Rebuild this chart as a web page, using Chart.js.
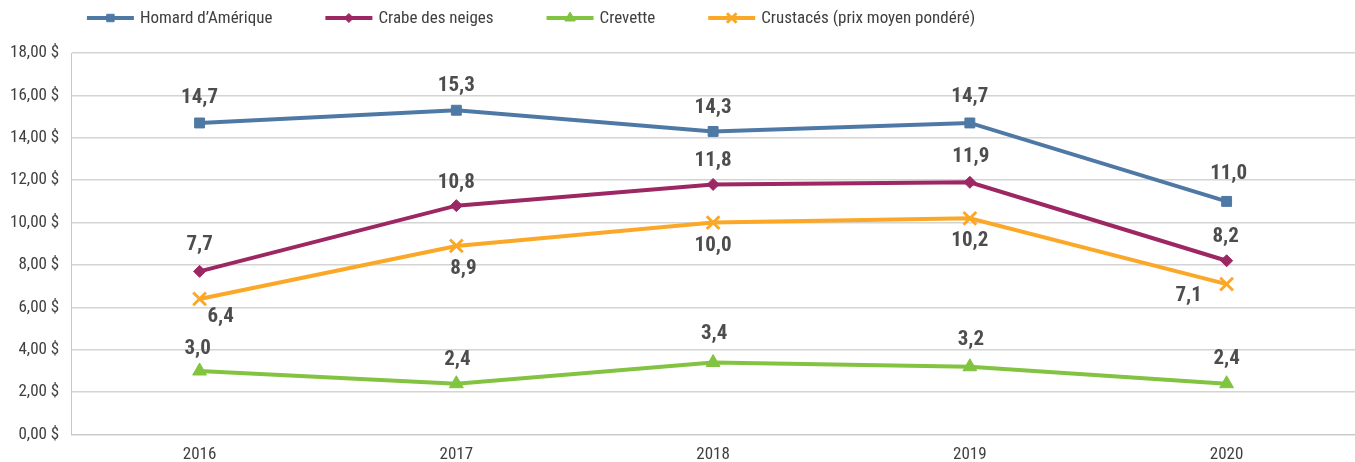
<!DOCTYPE html>
<html>
<head>
<meta charset="utf-8">
<script src="https://cdn.jsdelivr.net/npm/chart.js@4/dist/chart.umd.min.js"></script>
<style>
  html, body { margin: 0; padding: 0; background: #fff; overflow: hidden; }
</style>
</head>
<body>
<canvas id="chart" width="1355" height="462"></canvas>
<script>
// prix moyens par espèce
const years = ["2016", "2017", "2018", "2019", "2020"]
const homard = [14.7, 15.3, 14.3, 14.7, 11.0]
const crabe = [7.7, 10.8, 11.8, 11.9, 8.2]
const crevette = [3.0, 2.4, 3.4, 3.2, 2.4]
const crustaces = [6.4, 8.9, 10.0, 10.2, 7.1]
const yTicks = [0, 2, 4, 6, 8, 10, 12, 14, 16, 18]

const narrow = '"Liberation Sans Narrow", "Roboto Condensed", "DejaVu Sans Condensed", Roboto, sans-serif'
const fmt = v => v.toFixed(1).replace(".", ",")

function serie(label, data, color, style, radius, lbl) {
    return {
        label: label,
        data: data,
        borderColor: color,
        backgroundColor: color,
        borderWidth: 4,
        tension: 0,
        pointStyle: style,
        pointRadius: radius,
        pointHoverRadius: radius,
        pointBackgroundColor: color,
        pointBorderColor: color,
        pointBorderWidth: style === "crossRot" ? 3 : 1,
        lbl: lbl
    }
}

// étiquettes de valeur dessinées à la main
const valueLabels = {
    id: "valueLabels",
    afterDatasetsDraw(chart) {
        let ctx = chart.ctx
        ctx.save()
        ctx.font = "bold 21px " + narrow
        ctx.fillStyle = "#4d4d4d"
        ctx.textAlign = "center"
        ctx.textBaseline = "middle"
        chart.data.datasets.forEach((ds, i) => {
            let meta = chart.getDatasetMeta(i)
            meta.data.forEach((pt, j) => {
                let off = ds.lbl[j]
                ctx.fillText(fmt(ds.data[j]), pt.x + off[0], pt.y + off[1])
            })
        })
        ctx.restore()
    }
}

// légende : trait + marqueur, centrée en haut
const topLegend = {
    id: "topLegend",
    afterDraw(chart) {
        let ctx = chart.ctx
        ctx.save()
        ctx.font = "17px " + narrow
        let lineLen = 47, gap = 6, space = 53
        let items = chart.data.datasets.map(ds => ({ ds: ds, w: ctx.measureText(ds.label).width }))
        let total = items.reduce((s, it) => s + lineLen + gap + it.w, 0) + space * (items.length - 1)
        let x = 531 - total / 2
        let y = 18
        items.forEach(it => {
            let ds = it.ds
            ctx.strokeStyle = ds.borderColor
            ctx.lineWidth = 4
            ctx.beginPath()
            ctx.moveTo(x, y)
            ctx.lineTo(x + lineLen, y)
            ctx.stroke()
            ctx.fillStyle = ds.borderColor
            ctx.lineWidth = ds.pointBorderWidth
            Chart.helpers.drawPoint(ctx, {
                pointStyle: ds.pointStyle,
                radius: ds.pointRadius * 0.75,
                borderWidth: ds.pointBorderWidth,
                rotation: 0
            }, x + lineLen / 2, y)
            ctx.fillStyle = "#404040"
            ctx.textAlign = "left"
            ctx.textBaseline = "middle"
            ctx.fillText(ds.label, x + lineLen + gap, y + 1)
            x += lineLen + gap + it.w + space
        })
        ctx.restore()
    }
}

let chart = new Chart("chart", {
    type: "line",
    data: {
        labels: years,
        datasets: [
            serie("Homard d’Amérique", homard, "#4f79a5", "rect", 7,
                [[0, -25], [0, -24], [0, -24], [0, -26], [2, -28]]),
            serie("Crabe des neiges", crabe, "#9c2763", "rectRot", 6,
                [[0, -27], [0, -23], [0, -24], [1, -26], [-1, -24]]),
            serie("Crevette", crevette, "#82c341", "triangle", 8,
                [[-2, -22], [1, -24], [1, -29], [1, -27], [0, -25]]),
            serie("Crustacés (prix moyen pondéré)", crustaces, "#fba829", "crossRot", 9,
                [[21, 18], [7, 23], [0, 23], [0, 22], [-38, 12]])
        ]
    },
    options: {
        responsive: false,
        animation: false,
        layout: { autoPadding: false, padding: { top: 53, right: -9, left: -2, bottom: -13 } },
        plugins: {
            legend: { display: false },
            tooltip: { enabled: false }
        },
        scales: {
            x: {
                offset: true,
                grid: { display: false, drawTicks: false },
                border: { color: "#c8c8c8", width: 1 },
                ticks: { color: "#404040", font: { family: narrow, size: 17 }, padding: 10 }
            },
            y: {
                min: 0,
                max: 18,
                afterBuildTicks(axis) {
                    axis.ticks = yTicks.map(v => ({ value: v }))
                },
                grid: { color: "#d4d4d4", lineWidth: 1.5, drawTicks: false },
                border: { color: "#c8c8c8", width: 1 },
                ticks: {
                    color: "#404040",
                    font: { family: narrow, size: 17 },
                    padding: 12,
                    callback: v => v.toFixed(2).replace(".", ",") + " $"
                }
            }
        }
    },
    plugins: [valueLabels, topLegend]
})
</script>
</body>
</html>
